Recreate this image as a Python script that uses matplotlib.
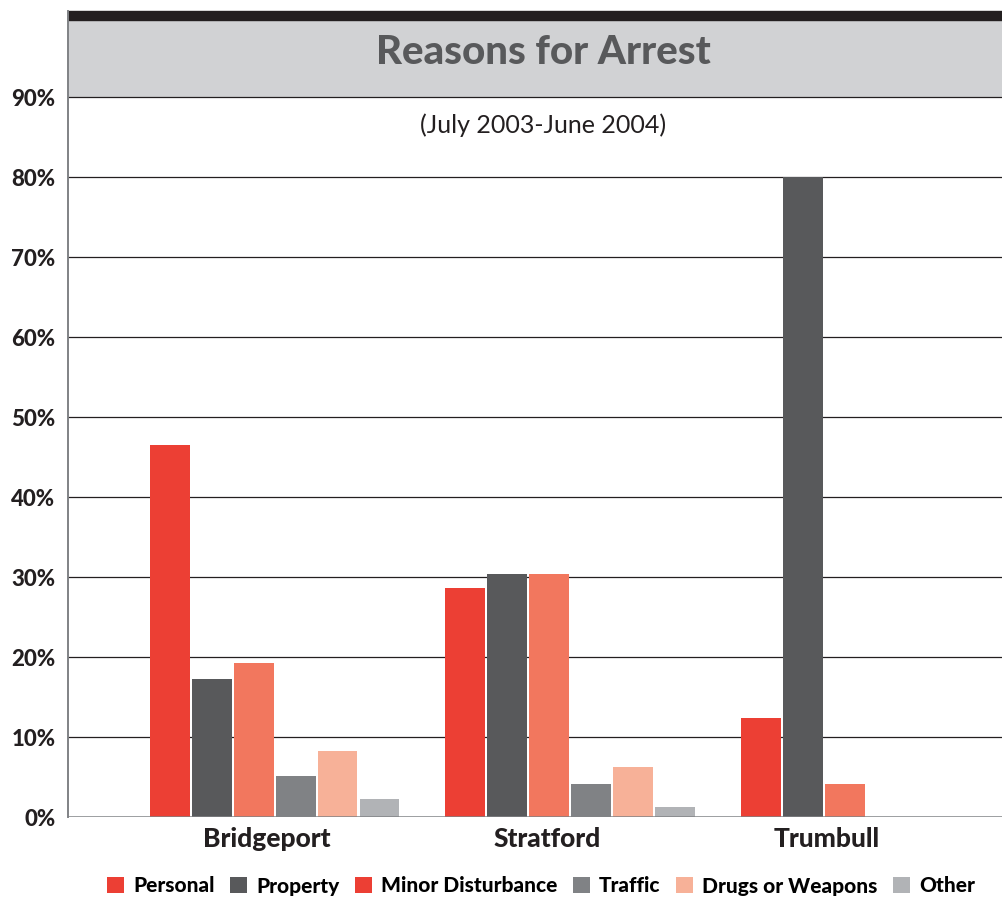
import numpy as np
import matplotlib.pyplot as plt
from matplotlib.patches import Rectangle, Patch

plt.rcParams['font.family'] = ['Lato', 'DejaVu Sans']

towns = ["Bridgeport", "Stratford", "Trumbull"]
reasons = ["Personal", "Property", "Minor Disturbance", "Traffic",
           "Drugs or Weapons", "Other"]
# percent of arrests per town, one list per reason
personal = [46.5, 28.6, 12.4]
property_ = [17.3, 30.4, 80.0]
minor = [19.3, 30.4, 4.1]
traffic = [5.1, 4.1, 0.0]
drugs = [8.3, 6.3, 0.0]
other = [2.3, 1.2, 0.0]
series = [personal, property_, minor, traffic, drugs, other]

bar_colors = ["#ec3f34", "#58595b", "#f2775e", "#808285", "#f7b198", "#b1b3b6"]
key_colors = ["#ec3f34", "#58595b", "#ec3f34", "#808285", "#f7b198", "#b1b3b6"]
yticks = list(range(0, 100, 10))

fig = plt.figure(figsize=(10.03, 8.98), dpi=100)
ax = fig.add_axes([68 / 1003, 1 - 817 / 898, 1 - 68 / 1003, 720 / 898])
ax.set_zorder(2)

x = np.arange(len(towns))
step, width = 0.1421, 0.135
for i, vals in enumerate(series):
    ax.bar(x + (i - 2.5) * step, vals, width, color=bar_colors[i], zorder=3)

ax.set_ylim(0, 90)
ax.set_xlim(-0.699, 2.465)
for v in yticks[1:]:
    ax.axhline(v, color="#231f20", lw=0.9, zorder=1, clip_on=False)
ax.axhline(0, color="#808285", lw=1.8, zorder=4)

ax.set_yticks(yticks)
ax.set_yticklabels([f"{v}%" for v in yticks], fontsize=16, fontweight="black",
                   color="#231f20")
ax.set_xticks(x + np.array([-0.025, -0.076, -0.133]))
ax.set_xticklabels(towns, fontsize=19, fontweight="black", color="#231f20")
ax.tick_params(axis="both", length=0)
ax.tick_params(axis="y", pad=9)
ax.tick_params(axis="x", pad=7)
for s in ax.spines.values():
    s.set_visible(False)

# header band and left rule
fig.patches.append(Rectangle((68 / 1003, 1 - 97 / 898), 1, 77 / 898,
                             transform=fig.transFigure, color="#d1d2d4", zorder=-1))
fig.patches.append(Rectangle((68 / 1003, 1 - 20 / 898), 1, 9 / 898,
                             transform=fig.transFigure, color="#231f20", zorder=-1))
fig.lines.append(plt.Line2D([68 / 1003, 68 / 1003], [1 - 817 / 898, 1 - 11 / 898],
                            transform=fig.transFigure, color="#808285", lw=1.4,
                            zorder=5))

fig.text(543 / 1003, 1 - 52 / 898, "Reasons for Arrest", ha="center", va="center",
         fontsize=29, fontweight="black", color="#58595b")
ax.text(0.508, 0.961, "(July 2003-June 2004)", transform=ax.transAxes,
        ha="center", va="center", fontsize=18, color="#231f20")

handles = [Patch(facecolor=c, edgecolor="none") for c in key_colors]
fig.legend(handles, reasons, loc="center", bbox_to_anchor=(541 / 1003, 1 - 886 / 898),
           ncol=6, frameon=False, handlelength=0.8, handleheight=0.8,
           handletextpad=0.45, columnspacing=0.75,
           prop={"weight": "black", "size": 15})

fig.savefig("out.png", dpi=100)
